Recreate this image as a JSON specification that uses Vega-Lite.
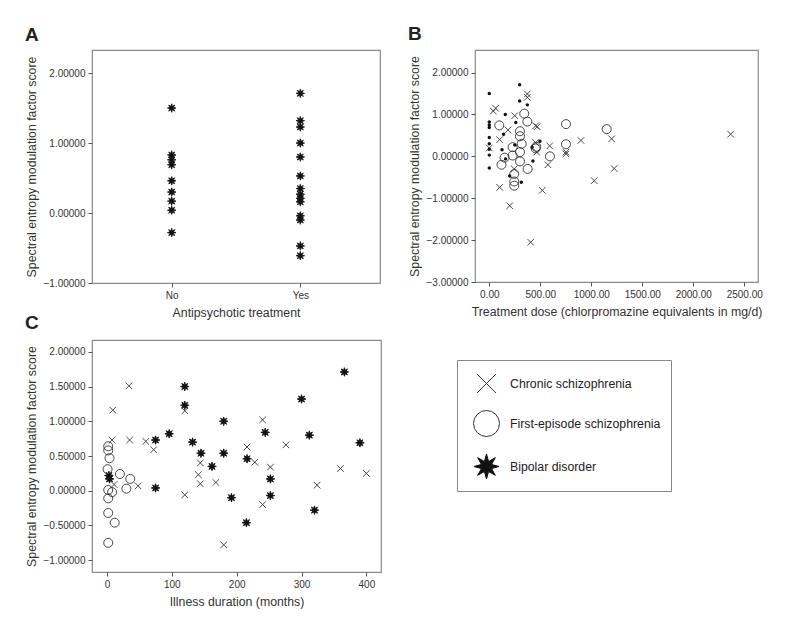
{
  "$schema": "https://vega.github.io/schema/vega-lite/v6.json",
  "padding": {"left": 24, "top": 24, "right": 5, "bottom": 5},
  "background": "white",
  "config": {
    "font": "Liberation Sans",
    "view": {"stroke": "#8a8a8a", "strokeWidth": 1.2},
    "axis": {"domain": false, "grid": false, "tickColor": "#555", "tickSize": 4, "labelFontSize": 10, "labelColor": "#333", "labelPadding": 3, "titleFontSize": 12.3, "titleFontWeight": "normal", "titleColor": "#333", "titlePadding": 5},
    "title": {"fontSize": 19, "fontWeight": "bold", "anchor": "start", "frame": "bounds", "color": "#222"},
    "legend": {"orient": "none", "legendX": 365, "legendY": 310, "strokeColor": "#888", "padding": 10, "rowPadding": 13, "symbolOffset": 6, "symbolSize": 676, "symbolStrokeWidth": 1, "labelFontSize": 12.3, "labelOffset": 10, "labelColor": "#222", "labelLimit": 300}
  },
  "datasets": {
    "a": [
      {"treatment": "No", "score": 1.50}, {"treatment": "No", "score": 0.83}, {"treatment": "No", "score": 0.76},
      {"treatment": "No", "score": 0.69}, {"treatment": "No", "score": 0.46}, {"treatment": "No", "score": 0.30},
      {"treatment": "No", "score": 0.17}, {"treatment": "No", "score": 0.04}, {"treatment": "No", "score": -0.28},
      {"treatment": "Yes", "score": 1.71}, {"treatment": "Yes", "score": 1.32}, {"treatment": "Yes", "score": 1.23},
      {"treatment": "Yes", "score": 1.00}, {"treatment": "Yes", "score": 0.80}, {"treatment": "Yes", "score": 0.53},
      {"treatment": "Yes", "score": 0.35}, {"treatment": "Yes", "score": 0.27}, {"treatment": "Yes", "score": 0.21},
      {"treatment": "Yes", "score": 0.16}, {"treatment": "Yes", "score": -0.04}, {"treatment": "Yes", "score": -0.10},
      {"treatment": "Yes", "score": -0.47}, {"treatment": "Yes", "score": -0.61}
    ],
    "b": [
      {"group": "First-episode schizophrenia", "dose": 98, "score": 0.74},
      {"group": "First-episode schizophrenia", "dose": 343, "score": 1.02},
      {"group": "First-episode schizophrenia", "dose": 373, "score": 0.83},
      {"group": "First-episode schizophrenia", "dose": 301, "score": 0.60},
      {"group": "First-episode schizophrenia", "dose": 301, "score": 0.48},
      {"group": "First-episode schizophrenia", "dose": 318, "score": 0.30},
      {"group": "First-episode schizophrenia", "dose": 229, "score": 0.22},
      {"group": "First-episode schizophrenia", "dose": 301, "score": 0.10},
      {"group": "First-episode schizophrenia", "dose": 229, "score": 0.02},
      {"group": "First-episode schizophrenia", "dose": 150, "score": -0.03},
      {"group": "First-episode schizophrenia", "dose": 301, "score": -0.12},
      {"group": "First-episode schizophrenia", "dose": 120, "score": -0.20},
      {"group": "First-episode schizophrenia", "dose": 376, "score": -0.30},
      {"group": "First-episode schizophrenia", "dose": 245, "score": -0.42},
      {"group": "First-episode schizophrenia", "dose": 245, "score": -0.60},
      {"group": "First-episode schizophrenia", "dose": 245, "score": -0.70},
      {"group": "First-episode schizophrenia", "dose": 455, "score": 0.19},
      {"group": "First-episode schizophrenia", "dose": 460, "score": 0.23},
      {"group": "First-episode schizophrenia", "dose": 595, "score": 0.00},
      {"group": "First-episode schizophrenia", "dose": 752, "score": 0.77},
      {"group": "First-episode schizophrenia", "dose": 752, "score": 0.29},
      {"group": "First-episode schizophrenia", "dose": 1151, "score": 0.65},
      {"group": "Chronic schizophrenia", "dose": 0, "score": 0.20},
      {"group": "Chronic schizophrenia", "dose": 62, "score": 1.15},
      {"group": "Chronic schizophrenia", "dose": 40, "score": 1.08},
      {"group": "Chronic schizophrenia", "dose": 373, "score": 1.49},
      {"group": "Chronic schizophrenia", "dose": 373, "score": 1.41},
      {"group": "Chronic schizophrenia", "dose": 249, "score": 0.97},
      {"group": "Chronic schizophrenia", "dose": 183, "score": 0.63},
      {"group": "Chronic schizophrenia", "dose": 455, "score": 0.73},
      {"group": "Chronic schizophrenia", "dose": 470, "score": 0.71},
      {"group": "Chronic schizophrenia", "dose": 102, "score": 0.40},
      {"group": "Chronic schizophrenia", "dose": 245, "score": -0.30},
      {"group": "Chronic schizophrenia", "dose": 455, "score": 0.33},
      {"group": "Chronic schizophrenia", "dose": 465, "score": 0.10},
      {"group": "Chronic schizophrenia", "dose": 592, "score": 0.25},
      {"group": "Chronic schizophrenia", "dose": 575, "score": -0.20},
      {"group": "Chronic schizophrenia", "dose": 520, "score": -0.81},
      {"group": "Chronic schizophrenia", "dose": 406, "score": -2.05},
      {"group": "Chronic schizophrenia", "dose": 102, "score": -0.74},
      {"group": "Chronic schizophrenia", "dose": 200, "score": -1.18},
      {"group": "Chronic schizophrenia", "dose": 752, "score": 0.10},
      {"group": "Chronic schizophrenia", "dose": 752, "score": 0.06},
      {"group": "Chronic schizophrenia", "dose": 899, "score": 0.38},
      {"group": "Chronic schizophrenia", "dose": 1200, "score": 0.42},
      {"group": "Chronic schizophrenia", "dose": 1225, "score": -0.29},
      {"group": "Chronic schizophrenia", "dose": 1029, "score": -0.58},
      {"group": "Chronic schizophrenia", "dose": 2367, "score": 0.53},
      {"group": "Bipolar disorder", "dose": 0, "score": 1.50},
      {"group": "Bipolar disorder", "dose": 0, "score": 0.82},
      {"group": "Bipolar disorder", "dose": 0, "score": 0.75},
      {"group": "Bipolar disorder", "dose": 0, "score": 0.69},
      {"group": "Bipolar disorder", "dose": 0, "score": 0.45},
      {"group": "Bipolar disorder", "dose": 0, "score": 0.30},
      {"group": "Bipolar disorder", "dose": 0, "score": 0.17},
      {"group": "Bipolar disorder", "dose": 0, "score": 0.03},
      {"group": "Bipolar disorder", "dose": 0, "score": -0.28},
      {"group": "Bipolar disorder", "dose": 298, "score": 1.71},
      {"group": "Bipolar disorder", "dose": 298, "score": 1.32},
      {"group": "Bipolar disorder", "dose": 373, "score": 1.23},
      {"group": "Bipolar disorder", "dose": 157, "score": 1.00},
      {"group": "Bipolar disorder", "dose": 260, "score": 0.81},
      {"group": "Bipolar disorder", "dose": 140, "score": 0.53},
      {"group": "Bipolar disorder", "dose": 497, "score": 0.36},
      {"group": "Bipolar disorder", "dose": 250, "score": 0.27},
      {"group": "Bipolar disorder", "dose": 420, "score": 0.22},
      {"group": "Bipolar disorder", "dose": 125, "score": 0.16},
      {"group": "Bipolar disorder", "dose": 160, "score": -0.06},
      {"group": "Bipolar disorder", "dose": 428, "score": -0.11},
      {"group": "Bipolar disorder", "dose": 200, "score": -0.47},
      {"group": "Bipolar disorder", "dose": 314, "score": -0.62}
    ],
    "c": [
      {"group": "Bipolar disorder", "months": 3, "score": 0.22},
      {"group": "Bipolar disorder", "months": 4, "score": 0.17},
      {"group": "Bipolar disorder", "months": 75, "score": 0.73},
      {"group": "Bipolar disorder", "months": 75, "score": 0.04},
      {"group": "Bipolar disorder", "months": 96, "score": 0.82},
      {"group": "Bipolar disorder", "months": 120, "score": 1.50},
      {"group": "Bipolar disorder", "months": 120, "score": 1.23},
      {"group": "Bipolar disorder", "months": 132, "score": 0.70},
      {"group": "Bipolar disorder", "months": 145, "score": 0.54},
      {"group": "Bipolar disorder", "months": 162, "score": 0.35},
      {"group": "Bipolar disorder", "months": 180, "score": 1.00},
      {"group": "Bipolar disorder", "months": 180, "score": 0.54},
      {"group": "Bipolar disorder", "months": 192, "score": -0.10},
      {"group": "Bipolar disorder", "months": 216, "score": 0.46},
      {"group": "Bipolar disorder", "months": 215, "score": -0.46},
      {"group": "Bipolar disorder", "months": 244, "score": 0.84},
      {"group": "Bipolar disorder", "months": 252, "score": 0.17},
      {"group": "Bipolar disorder", "months": 252, "score": -0.07},
      {"group": "Bipolar disorder", "months": 300, "score": 1.32},
      {"group": "Bipolar disorder", "months": 312, "score": 0.80},
      {"group": "Bipolar disorder", "months": 320, "score": -0.28},
      {"group": "Bipolar disorder", "months": 366, "score": 1.71},
      {"group": "Bipolar disorder", "months": 390, "score": 0.69},
      {"group": "Chronic schizophrenia", "months": 34, "score": 1.51},
      {"group": "Chronic schizophrenia", "months": 9, "score": 1.16},
      {"group": "Chronic schizophrenia", "months": 8, "score": 0.73},
      {"group": "Chronic schizophrenia", "months": 35, "score": 0.73},
      {"group": "Chronic schizophrenia", "months": 60, "score": 0.71},
      {"group": "Chronic schizophrenia", "months": 72, "score": 0.59},
      {"group": "Chronic schizophrenia", "months": 48, "score": 0.07},
      {"group": "Chronic schizophrenia", "months": 11, "score": 0.09},
      {"group": "Chronic schizophrenia", "months": 120, "score": 1.15},
      {"group": "Chronic schizophrenia", "months": 120, "score": -0.06},
      {"group": "Chronic schizophrenia", "months": 144, "score": 0.40},
      {"group": "Chronic schizophrenia", "months": 141, "score": 0.23},
      {"group": "Chronic schizophrenia", "months": 144, "score": 0.10},
      {"group": "Chronic schizophrenia", "months": 168, "score": 0.12},
      {"group": "Chronic schizophrenia", "months": 180, "score": -0.78},
      {"group": "Chronic schizophrenia", "months": 216, "score": 0.63},
      {"group": "Chronic schizophrenia", "months": 228, "score": 0.41},
      {"group": "Chronic schizophrenia", "months": 240, "score": 1.02},
      {"group": "Chronic schizophrenia", "months": 240, "score": -0.20},
      {"group": "Chronic schizophrenia", "months": 252, "score": 0.34},
      {"group": "Chronic schizophrenia", "months": 276, "score": 0.66},
      {"group": "Chronic schizophrenia", "months": 324, "score": 0.08},
      {"group": "Chronic schizophrenia", "months": 360, "score": 0.32},
      {"group": "Chronic schizophrenia", "months": 400, "score": 0.25},
      {"group": "First-episode schizophrenia", "months": 2, "score": 0.64},
      {"group": "First-episode schizophrenia", "months": 2, "score": 0.58},
      {"group": "First-episode schizophrenia", "months": 4, "score": 0.47},
      {"group": "First-episode schizophrenia", "months": 1, "score": 0.31},
      {"group": "First-episode schizophrenia", "months": 20, "score": 0.24},
      {"group": "First-episode schizophrenia", "months": 36, "score": 0.17},
      {"group": "First-episode schizophrenia", "months": 30, "score": 0.03},
      {"group": "First-episode schizophrenia", "months": 2, "score": 0.01},
      {"group": "First-episode schizophrenia", "months": 8, "score": -0.02},
      {"group": "First-episode schizophrenia", "months": 2, "score": -0.11},
      {"group": "First-episode schizophrenia", "months": 2, "score": -0.32},
      {"group": "First-episode schizophrenia", "months": 12, "score": -0.46},
      {"group": "First-episode schizophrenia", "months": 2, "score": -0.75}
    ]
  },
  "vconcat": [
    {
      "hconcat": [
        {
          "title": {"text": "A", "offset": 5},
          "width": 288,
          "height": 233,
          "data": {"name": "a"},
          "mark": {"type": "point", "filled": true, "shape": "M0.96,0L0.388,0.161L0.679,0.679L0.161,0.388L0,0.96L-0.161,0.388L-0.679,0.679L-0.388,0.161L-0.96,0L-0.388,-0.161L-0.679,-0.679L-0.161,-0.388L0,-0.96L0.161,-0.388L0.679,-0.679L0.388,-0.161Z", "size": 80, "color": "#111", "stroke": "#111", "strokeWidth": 0.8, "opacity": 1},
          "encoding": {
            "x": {"field": "treatment", "type": "nominal", "scale": {"type": "point", "domain": ["No", "Yes"], "padding": 0.62}, "axis": {"labelAngle": 0, "title": "Antipsychotic treatment", "titlePadding": 6}},
            "y": {"field": "score", "type": "quantitative", "scale": {"domain": [-1.0, 2.33], "nice": false, "zero": false}, "axis": {"values": [-1, 0, 1, 2], "format": ".5f", "title": "Spectral entropy modulation factor score"}}
          }
        },
        {
          "title": {"text": "B", "offset": 6},
          "width": 283,
          "height": 232,
          "data": {"name": "b"},
          "encoding": {
            "x": {"field": "dose", "type": "quantitative", "scale": {"domain": [-140, 2635], "nice": false, "zero": false}, "axis": {"values": [0, 500, 1000, 1500, 2000, 2500], "format": ".2f", "title": "Treatment dose (chlorpromazine equivalents in mg/d)", "titlePadding": 6}},
            "y": {"field": "score", "type": "quantitative", "scale": {"domain": [-3.0, 2.54], "nice": false, "zero": false}, "axis": {"values": [-3, -2, -1, 0, 1, 2], "format": ".5f", "title": "Spectral entropy modulation factor score"}}
          },
          "layer": [
            {
              "transform": [{"filter": "datum.group !== 'Bipolar disorder'"}],
              "mark": {"type": "point", "filled": false, "size": 81, "strokeWidth": 0.9, "opacity": 1},
              "encoding": {
                "shape": {"field": "group", "type": "nominal", "scale": {"domain": ["Chronic schizophrenia", "First-episode schizophrenia", "Bipolar disorder"], "range": ["M-0.73,-0.73L0.73,0.73M-0.73,0.73L0.73,-0.73", "circle", "M0.96,0L0.388,0.161L0.679,0.679L0.161,0.388L0,0.96L-0.161,0.388L-0.679,0.679L-0.388,0.161L-0.96,0L-0.388,-0.161L-0.679,-0.679L-0.161,-0.388L0,-0.96L0.161,-0.388L0.679,-0.679L0.388,-0.161Z"]}, "legend": {"title": null}},
                "fill": {"field": "group", "type": "nominal", "scale": {"domain": ["Chronic schizophrenia", "First-episode schizophrenia", "Bipolar disorder"], "range": ["transparent", "transparent", "#111"]}, "legend": {"title": null}},
                "stroke": {"field": "group", "type": "nominal", "scale": {"domain": ["Chronic schizophrenia", "First-episode schizophrenia", "Bipolar disorder"], "range": ["#333", "#333", "#111"]}, "legend": {"title": null}}
              }
            },
            {
              "transform": [{"filter": "datum.group === 'Bipolar disorder'"}],
              "mark": {"type": "point", "filled": true, "shape": "circle", "size": 12, "color": "#111", "opacity": 1},
              "encoding": {}
            }
          ]
        }
      ],
      "spacing": 26
    },
    {
      "title": {"text": "C", "offset": 7},
      "width": 289,
      "height": 232,
      "data": {"name": "c"},
      "mark": {"type": "point", "filled": false, "size": 81, "strokeWidth": 0.9, "opacity": 1},
      "encoding": {
        "x": {"field": "months", "type": "quantitative", "scale": {"domain": [-23, 422.5], "nice": false, "zero": false}, "axis": {"values": [0, 100, 200, 300, 400], "format": "d", "title": "Illness duration (months)", "titlePadding": 6}},
        "y": {"field": "score", "type": "quantitative", "scale": {"domain": [-1.17, 2.17], "nice": false, "zero": false}, "axis": {"values": [-1, -0.5, 0, 0.5, 1, 1.5, 2], "format": ".5f", "title": "Spectral entropy modulation factor score"}},
        "shape": {"field": "group", "type": "nominal", "scale": {"domain": ["Chronic schizophrenia", "First-episode schizophrenia", "Bipolar disorder"], "range": ["M-0.73,-0.73L0.73,0.73M-0.73,0.73L0.73,-0.73", "circle", "M0.96,0L0.388,0.161L0.679,0.679L0.161,0.388L0,0.96L-0.161,0.388L-0.679,0.679L-0.388,0.161L-0.96,0L-0.388,-0.161L-0.679,-0.679L-0.161,-0.388L0,-0.96L0.161,-0.388L0.679,-0.679L0.388,-0.161Z"]}, "legend": {"title": null}},
        "fill": {"field": "group", "type": "nominal", "scale": {"domain": ["Chronic schizophrenia", "First-episode schizophrenia", "Bipolar disorder"], "range": ["transparent", "transparent", "#111"]}, "legend": {"title": null}},
        "stroke": {"field": "group", "type": "nominal", "scale": {"domain": ["Chronic schizophrenia", "First-episode schizophrenia", "Bipolar disorder"], "range": ["#333", "#333", "#111"]}, "legend": {"title": null}}
      }
    }
  ],
  "spacing": -6,
  "resolve": {"scale": {"shape": "shared", "fill": "shared", "stroke": "shared"}}
}
